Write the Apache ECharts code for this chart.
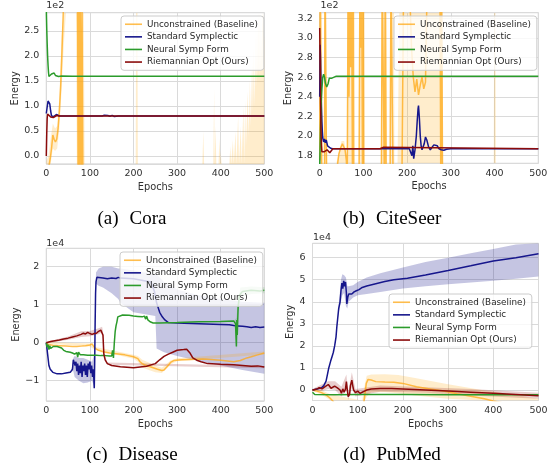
<!DOCTYPE html>
<html><head><meta charset="utf-8">
<script src="https://cdn.jsdelivr.net/npm/echarts@6/dist/echarts.min.js"></script>
<style>html,body{margin:0;padding:0;background:#fff}#c{width:551px;height:463px}</style>
</head><body><div id="c"></div>
<script>
const seriesNames = ['Unconstrained (Baseline)', 'Standard Symplectic', 'Neural Symp Form', 'Riemannian Opt (Ours)'];
const captions = ['(a)\u2002\u200aCora', '(b)\u2002\u200aCiteSeer', '(c)\u2002\u200aDisease', '(d)\u2002\u200aPubMed'];
const offsetLabels = ['1e2', '1e2', '1e4', '1e4'];

// ---- (a) Cora, energy in units of 1e2 ----
const coraOrange = [[0,-0.35],[3,-0.3],[6,-0.2],[9,-0.05],[12,0.15],[15,0.42],[18,0.33],[21,0.28],[24,0.34],[27,0.55],[30,0.9],[33,1.4],[36,2.1],[39,2.9],[44,4.5],[55,7],[68,6],[72,2.6],[73,-0.6],[75,3.0],[76,-0.6],[77,1.99],[78,3.0],[80,-0.6],[82,3.0],[84,-0.6],[86,-3],[100,-6],[500,-6]];
const coraOrangeBand = [[0,-0.7,-0.1],[5,-0.5,0.0],[10,-0.3,0.35],[15,0.15,0.65],[20,0.1,0.55],[25,0.15,0.6],[30,0.55,1.2],[35,1.3,2.4],[40,2.2,3.8],[45,4,6],[68,5,7],[70,-3,9],[86,-3,9],[88,-8,-4],[205,-8,-4],[206,-8,9],[209,-8,9],[210,-8,-4],
 [358,-8,-4],[360,-8,0.5],[362,-8,-4],[383,-8,-4],[385,-8,1.36],[386,-8,-4],[388,-8,0.6],[390,-8,-4],[395,-8,-4],[397,-8,0.35],[399,-8,-4],[400,-8,0.1],[402,-8,-4],
 [420,-8,-4],[422,-8,0.2],[424,-8,-4],[428,-8,0.32],[430,-8,-4],[434,-8,0.5],[436,-8,-4],[440,-8,0.82],[442,-8,-4],[446,-8,0.6],[448,-8,-4],[452,-8,1.0],[454,-8,-4],[456,-8,1.12],[458,-8,0.2],[462,-8,1.3],[464,-8,0.4],[467,-8,1.52],[469,-8,0.6],[472,-8,1.9],[474,-8,0.9],[476,-8,2.2],[478,-8,1.0],[481,-8,2.6],[483,-8,1.4],[486,-8,3.5],[488,-8,1.6],[490,-8,3.5],[492,-8,1.8],[495,-8,2.6],[497,-8,3.5],[500,-8,2.3]];
const coraBlue = [[0,0.85],[2,0.98],[4,1.1],[6,1.13],[8,1.04],[10,0.9],[12,0.8],[14,0.77],[17,0.79],[20,0.82],[23,0.83],[26,0.81],[30,0.8],[40,0.8],[128,0.8],[133,0.815],[137,0.79],[141,0.81],[146,0.795],[151,0.812],[156,0.79],[160,0.805],[165,0.8],[500,0.8]];
const coraGreen = [[0,2.95],[1,2.55],[2,2.25],[3,2.0],[4,1.82],[5,1.68],[6,1.59],[7,1.56],[9,1.58],[12,1.64],[15,1.68],[18,1.66],[21,1.61],[24,1.58],[28,1.59],[35,1.6],[60,1.595],[500,1.595]];
const coraRed = [[0,0.0],[1,0.45],[2,0.75],[3,0.84],[5,0.85],[7,0.82],[10,0.78],[13,0.76],[16,0.77],[20,0.8],[24,0.81],[30,0.8],[500,0.8]];

// ---- (b) CiteSeer, energy in units of 1e2 ----
const citeOrange = [[0,1.75],[1,3.6],[4,3.6],[5,1.5],[11,1.5],[12,3.6],[15,3.6],[16,1.5],[38,1.5],[41,1.72],[44,1.82],[48,1.88],[52,1.92],[55,1.91],[58,1.86],[61,1.75],[63,1.5],[65,3.6],[67,2.4],[69,3.6],[71,2.7],[73,3.6],[75,1.5],[77,3.6],[78,1.5],[90,1.5],[92,3.6],[94,2.9],[96,3.6],[98,1.5],[100,3.6],[101,1.5],[141,1.5],[143,3.6],[146,3.6],[148,1.5],[150,3.6],[152,1.5],[161,1.5],[163,3.6],[166,3.6],[168,1.5],[188,1.5],[192,3.6],[205,3.6],[210,2.9],[214,2.6],[218,2.45],[222,2.58],[226,2.42],[230,2.52],[234,2.6],[238,2.48],[242,2.55],[246,3.6],[275,3.6],[277,1.5],[279,3.6],[281,1.5],[500,1.5]];
const citeOrangeBand = [[0,1.0,4.0],[5,1.0,4.0],[6,1.0,1.0],[10,1.0,1.0],[11,1.0,4.0],[16,1.0,4.0],[17,1.0,1.0],[38,1.0,1.0],[42,1.0,1.8],[50,1.0,1.95],[56,1.0,1.95],[62,1.0,1.8],[63,1.0,4.0],[78,1.0,4.0],[79,1.0,1.0],[89,1.0,1.0],[90,1.0,4.0],[101,1.0,4.0],[102,1.0,1.0],[140,1.0,1.0],[141,1.0,4.0],[153,1.0,4.0],[154,1.0,1.0],[160,1.0,1.0],[161,1.0,4.0],[170,1.0,4.0],[171,1.0,1.0],[178,1.0,1.0],[182,1.0,4.0],[280,1.0,4.0],[282,1.0,1.0],[398,1.0,1.0],[399,1.0,4.0],[402,1.0,4.0],[403,1.0,1.0],[500,1.0,1.0]];
const citeBlue = [[0,2.4],[1,2.93],[2,2.78],[3,2.52],[4,2.3],[5,2.15],[6,2.05],[7,1.98],[9,1.94],[11,1.97],[13,1.93],[15,1.96],[18,1.9],[21,1.88],[25,1.875],[30,1.87],[205,1.87],[208,1.85],[211,1.8],[213,1.9],[215,1.77],[218,1.86],[221,2.0],[223,2.15],[225,2.28],[226,2.31],[228,2.18],[230,2.0],[232,1.9],[234,1.86],[236,1.85],[239,1.92],[242,1.99],[245,1.96],[249,1.89],[253,1.86],[257,1.88],[261,1.91],[265,1.92],[269,1.9],[273,1.87],[278,1.86],[284,1.855],[290,1.865],[300,1.87],[500,1.87]];
const citeGreen = [[0,1.7],[1,1.9],[2,2.1],[3,2.3],[5,2.48],[7,2.6],[9,2.63],[11,2.6],[13,2.54],[16,2.5],[19,2.53],[22,2.59],[25,2.61],[28,2.59],[32,2.6],[38,2.61],[500,2.61]];
const citeRed = [[0,3.1],[1,2.75],[2,2.35],[3,2.05],[4,1.9],[5,1.84],[7,1.82],[9,1.86],[11,1.84],[13,1.82],[15,1.85],[17,1.86],[20,1.84],[23,1.83],[26,1.85],[30,1.87],[138,1.87],[142,1.89],[146,1.885],[150,1.87],[500,1.87]];

// ---- (c) Disease, energy in units of 1e4 ----
const disOrange = [[0,0],[5,-0.05],[15,-0.07],[30,-0.08],[45,-0.09],[60,-0.1],[70,-0.1],[80,-0.09],[90,-0.08],[100,-0.06],[105,-0.03],[108,-0.05],[112,-0.15],[120,-0.2],[130,-0.24],[145,-0.27],[160,-0.29],[180,-0.32],[200,-0.37],[210,-0.42],[215,-0.5],[220,-0.55],[225,-0.58],[235,-0.62],[245,-0.66],[255,-0.7],[265,-0.73],[270,-0.72],[278,-0.62],[285,-0.52],[292,-0.47],[310,-0.45],[330,-0.44],[360,-0.43],[400,-0.46],[430,-0.5],[445,-0.47],[460,-0.4],[470,-0.37],[485,-0.32],[500,-0.27]];
const disOrangeBand = [[0,-0.02,0.02],[100,-0.1,-0.02],[112,-0.19,-0.11],[200,-0.42,-0.32],[210,-0.5,-0.35],[220,-0.65,-0.45],[235,-0.72,-0.52],[250,-0.78,-0.6],[265,-0.8,-0.66],[285,-0.57,-0.47],[300,-0.49,-0.41],[500,-0.31,-0.23]];
const disBlue = [[0,0],[3,-0.3],[6,-0.6],[9,-0.7],[15,-0.78],[25,-0.82],[35,-0.82],[45,-0.8],[55,-0.78],[60,-0.7],[62,-0.45],[64,-0.4],[66,-0.6],[68,-0.5],[70,-0.75],[72,-0.55],[74,-0.85],[76,-0.6],[78,-0.8],[80,-0.5],[82,-0.9],[84,-0.6],[86,-0.75],[88,-0.55],[90,-0.85],[92,-0.6],[94,-0.9],[96,-0.55],[98,-0.7],[100,-0.5],[102,-0.8],[104,-0.6],[106,-0.9],[108,-0.7],[110,-1.2],[111,-0.5],[112,0.5],[113,1.3],[114,1.6],[116,1.72],[120,1.72],[130,1.7],[140,1.68],[150,1.7],[160,1.69],[165,1.72],[167,1.68],[170,1.7],[200,1.68],[240,1.6],[248,1.35],[253,1.05],[260,0.8],[266,0.68],[272,0.6],[280,0.53],[300,0.52],[350,0.5],[400,0.48],[420,0.47],[430,0.45],[440,0.44],[450,0.43],[460,0.42],[470,0.4],[480,0.42],[490,0.4],[500,0.41]];
const disBlueBand = [[0,0,0],[3,-0.3,-0.3],[6,-0.6,-0.6],[9,-0.7,-0.7],[15,-0.78,-0.78],[25,-0.82,-0.82],[45,-0.8,-0.8],[58,-0.75,-0.73],[62,-0.75,-0.4],[65,-0.9,-0.35],[75,-1.0,-0.4],[85,-1.07,-0.4],[95,-1.05,-0.45],[105,-1.0,-0.5],[110,-1.15,-0.3],[112,0.5,1.0],[114,1.55,1.85],[120,1.5,1.95],[130,1.45,2.0],[150,1.3,2.0],[165,1.15,1.95],[170,1.05,1.95],[200,0.8,1.9],[250,0.7,1.8],[253,-0.15,1.8],[270,-0.25,1.6],[300,-0.35,1.4],[350,-0.48,1.25],[400,-0.6,1.15],[450,-0.72,1.08],[500,-0.82,1.05]];
const disGreen = [[0,0],[2,-0.12],[4,-0.05],[6,-0.18],[8,-0.08],[10,-0.15],[12,-0.1],[14,-0.2],[16,-0.1],[20,-0.12],[25,-0.1],[30,-0.12],[35,-0.14],[40,-0.2],[45,-0.23],[55,-0.25],[60,-0.27],[65,-0.3],[70,-0.26],[72,-0.38],[74,-0.25],[78,-0.32],[85,-0.32],[95,-0.33],[105,-0.33],[115,-0.33],[125,-0.34],[135,-0.34],[145,-0.35],[150,-0.35],[152,-0.2],[154,-0.4],[156,0.0],[158,0.3],[160,0.45],[162,0.55],[164,0.68],[167,0.72],[175,0.73],[190,0.72],[200,0.7],[210,0.69],[220,0.68],[225,0.7],[228,0.62],[230,0.7],[233,0.6],[238,0.55],[245,0.52],[260,0.52],[300,0.53],[350,0.55],[400,0.56],[430,0.57],[434,0.5],[436,-0.1],[437,0.6],[438,0.2],[440,0.95],[443,1.25],[450,1.35],[470,1.38],[490,1.36],[500,1.38]];
const disGreenBand = [[428,0.57,0.57],[432,0.52,0.6],[436,-0.2,0.65],[440,0.8,1.1],[445,1.2,1.45],[470,1.28,1.48],[500,1.3,1.46]];
const disRed = [[0,0],[10,0.03],[20,0.05],[30,0.07],[40,0.1],[50,0.12],[60,0.15],[70,0.18],[80,0.22],[85,0.25],[90,0.23],[95,0.27],[100,0.24],[105,0.22],[110,0.24],[115,0.25],[120,0.3],[125,0.33],[128,0.36],[130,0.2],[132,-0.3],[135,-0.45],[140,-0.55],[150,-0.6],[170,-0.63],[200,-0.66],[230,-0.62],[250,-0.55],[260,-0.45],[270,-0.36],[280,-0.3],[290,-0.25],[300,-0.2],[315,-0.18],[322,-0.17],[326,-0.15],[330,-0.28],[336,-0.4],[345,-0.46],[355,-0.5],[370,-0.55],[400,-0.57],[430,-0.58],[450,-0.6],[470,-0.62],[485,-0.61],[500,-0.64]];
const disRedBand = [[0,-0.02,0.02],[50,0.08,0.16],[80,0.15,0.3],[100,0.17,0.31],[120,0.22,0.38],[128,0.28,0.42],[130,0.1,0.3],[132,-0.35,-0.25],[140,-0.58,-0.52],[500,-0.67,-0.61]];

// ---- (d) PubMed, energy in units of 1e4 ----
const pubOrange = [[0,0],[10,-0.05],[20,-0.12],[30,-0.22],[38,-0.35],[45,-0.5],[55,-0.8],[100,-1],[112,-0.8],[116,-0.2],[119,0.3],[123,0.48],[130,0.45],[140,0.38],[160,0.36],[180,0.35],[200,0.3],[230,0.15],[260,0.05],[290,-0.05],[320,-0.17],[350,-0.28],[380,-0.4],[400,-0.5],[450,-0.7],[500,-0.9]];
const pubOrangeBand = [[0,-0.05,0.05],[20,-0.2,0],[40,-0.55,-0.2],[110,-0.6,-0.5],[116,-0.6,0.3],[120,-0.3,0.65],[130,-0.1,0.7],[160,-0.1,0.72],[190,-0.15,0.68],[227,-0.25,0.55],[300,-0.4,0.26],[375,-0.6,0.0],[450,-0.8,-0.23],[500,-0.9,-0.4]];
const pubBlue = [[0,0],[10,0.05],[20,0.1],[25,0.2],[30,0.4],[33,0.7],[36,1.0],[40,1.3],[43,1.5],[46,1.7],[49,2.0],[52,2.4],[54,2.9],[56,3.3],[58,3.7],[61,4.0],[63,4.5],[65,4.85],[67,4.6],[69,4.95],[71,4.7],[73,4.9],[75,4.4],[76,3.9],[78,4.2],[80,4.35],[83,4.4],[87,4.35],[92,4.45],[97,4.5],[103,4.55],[110,4.65],[120,4.72],[140,4.82],[160,4.92],[180,5.0],[210,5.07],[250,5.22],[300,5.42],[350,5.63],[400,5.85],[450,6.0],[500,6.18]];
const pubBlueBand = [[54,2.9,2.9],[56,3.2,3.4],[58,3.55,3.9],[60,3.7,4.3],[63,4.0,5.0],[66,4.3,5.25],[70,4.4,5.2],[74,3.8,5.1],[77,3.7,4.7],[80,4.0,4.7],[90,4.2,4.75],[100,4.3,4.9],[120,4.35,5.1],[150,4.45,5.3],[200,4.6,5.55],[250,4.7,5.8],[300,4.8,6.0],[350,4.88,6.2],[400,4.95,6.4],[450,5.05,6.6],[500,5.15,6.8]];
const pubGreen = [[0,-0.1],[5,-0.2],[50,-0.21],[100,-0.2],[200,-0.2],[300,-0.21],[400,-0.22],[500,-0.22]];
const pubRed = [[0,0],[5,0.02],[10,0.05],[15,0.1],[18,0.15],[21,0.05],[24,0.03],[28,0.15],[32,0.22],[35,0.25],[38,0.2],[41,0.08],[45,0.12],[49,0.18],[52,0.25],[55,0.1],[58,0.05],[61,0.0],[64,-0.15],[67,0.05],[70,-0.1],[73,0.05],[75,0.38],[77,0.0],[79,-0.3],[82,-0.2],[84,0.2],[87,0.45],[89,0.2],[91,0.0],[95,-0.12],[100,-0.05],[105,-0.15],[110,-0.1],[115,-0.05],[120,0.0],[130,0.05],[150,0.07],[175,0.07],[200,0.05],[250,0.0],[300,-0.05],[350,-0.1],[400,-0.15],[450,-0.2],[500,-0.26]];
const pubRedBand = [[0,-0.05,0.05],[20,-0.05,0.25],[35,0.05,0.4],[50,0.0,0.4],[64,-0.3,0.15],[75,0.0,0.7],[79,-0.45,-0.1],[87,0.1,0.8],[95,-0.3,0.05],[115,-0.2,0.1],[150,-0.08,0.2],[250,-0.12,0.12],[350,-0.25,0.05],[500,-0.4,-0.12]];

const lineColors = ['rgba(255,168,20,0.75)', '#16168c', '#2b9b2b', '#8b0b0b'];
const bandColors = ['rgba(255,165,0,0.2)', 'rgba(25,25,140,0.25)', 'rgba(43,155,43,0.2)', 'rgba(139,11,11,0.2)'];

const panels = [
  {grid:{left:46.3, top:12.7, width:218, height:151.3}, y:{min:-0.16, max:2.866, step:0.5, dec:1, split:5}, yGap:24, xGap:18,
   lines:[coraOrange, coraBlue, coraGreen, coraRed], bands:[[0, coraOrangeBand]], legend:{left:121, top:16}, off:[46.3, 6], cap:[132, 219]},
  {grid:{left:319.7, top:12.7, width:218.6, height:150.6}, y:{min:1.722, max:3.257, step:0.2, dec:1, split:7}, yGap:25, xGap:18.5,
   lines:[citeOrange, citeBlue, citeGreen, citeRed], bands:[[0, citeOrangeBand]], legend:{left:394, top:16}, off:[320.5, 6], cap:[392, 219]},
  {grid:{left:46.3, top:248.3, width:218, height:152.7}, y:{min:-1.534, max:2.484, step:1, dec:0, split:5}, yGap:23.5, xGap:18,
   lines:[disOrange, disBlue, disGreen, disRed], bands:[[1, disBlueBand], [0, disOrangeBand], [2, disGreenBand], [3, disRedBand]], legend:{left:120, top:252}, off:[46.3, 243.5], cap:[132, 455]},
  {grid:{left:312.5, top:243.3, width:226, height:157.2}, y:{min:-0.476, max:6.653, step:1, dec:0, split:5}, yGap:17.5, xGap:18.5,
   lines:[pubOrange, pubBlue, pubGreen, pubRed], bands:[[1, pubBlueBand], [0, pubOrangeBand], [3, pubRedBand]], legend:{left:389, top:294}, off:[313, 238], cap:[392, 455]}
];

function fmt(step, dec) {
  return function (v) {
    const k = Math.round(v / step);
    if (Math.abs(v - k * step) > step * 1e-3) return '';
    return (k * step).toFixed(dec).replace('-', '\u2212');
  };
}
const tickFont = {color:'#303030', fontSize:9.5, fontFamily:'DejaVu Sans'};
const nameFont = {color:'#303030', fontSize:9.8, fontFamily:'DejaVu Sans'};

const option = {animation:false, grid:[], xAxis:[], yAxis:[], legend:[], series:[], graphic:[]};
panels.forEach(function (p, i) {
  option.grid.push(Object.assign({show:true, borderColor:'#cccccc', borderWidth:1, backgroundColor:'#ffffff', outerBoundsMode:'none', containLabel:false}, p.grid));
  option.xAxis.push({type:'value', gridIndex:i, min:0, max:500, interval:100,
    axisLine:{show:false}, axisTick:{show:false},
    splitLine:{show:true, lineStyle:{color:'#dadada', width:1}},
    axisLabel:Object.assign({margin:5}, tickFont),
    name:'Epochs', nameLocation:'middle', nameGap:p.xGap, nameTextStyle:nameFont});
  option.yAxis.push({type:'value', gridIndex:i, min:p.y.min, max:p.y.max, splitNumber:p.y.split, minInterval:p.y.step, maxInterval:p.y.step,
    axisLine:{show:false}, axisTick:{show:false},
    splitLine:{show:true, lineStyle:{color:'#dadada', width:1}},
    axisLabel:Object.assign({margin:7, formatter:fmt(p.y.step, p.y.dec)}, tickFont),
    name:'Energy', nameLocation:'middle', nameGap:p.yGap, nameTextStyle:nameFont});
  option.legend.push({data:seriesNames, left:p.legend.left, top:p.legend.top, orient:'vertical', icon:'rect',
    itemWidth:17, itemHeight:1.6, itemGap:2.1, padding:[3,6,3,4], selectedMode:false,
    backgroundColor:'rgba(255,255,255,0.8)', borderColor:'#cccccc', borderWidth:1, borderRadius:3,
    textStyle:{fontSize:8.8, fontFamily:'DejaVu Sans', color:'#262626', lineHeight:10.5}});
  p.bands.forEach(function (b) {
    const band = b[1], col = bandColors[b[0]], lo = p.y.min, hi = p.y.max;
    const cl = function (v) { return Math.max(lo, Math.min(hi, v)); };
    option.series.push({type:'custom', name:'band', xAxisIndex:i, yAxisIndex:i, data:band, clip:true, silent:true, z:1,
      encode:{x:0, y:[1,2]},
      renderItem:function (params, api) {
        if (params.dataIndex !== 0) return null;
        const pts = [];
        for (let k = 0; k < band.length; k++) pts.push(api.coord([band[k][0], cl(band[k][2])]));
        for (let k = band.length - 1; k >= 0; k--) pts.push(api.coord([band[k][0], cl(band[k][1])]));
        return {type:'polygon', shape:{points:pts}, style:{fill:col, stroke:null}};
      }});
  });
  p.lines.forEach(function (d, s) {
    option.series.push({type:'line', name:seriesNames[s], xAxisIndex:i, yAxisIndex:i, data:d,
      showSymbol:false, symbol:'none', clip:true, z:3, emphasis:{disabled:true},
      lineStyle:{color:lineColors[s], width:1.5}, itemStyle:{color:lineColors[s]}});
  });
  option.graphic.push({type:'text', x:p.off[0], y:p.off[1], silent:true,
    style:{text:offsetLabels[i], fill:'#303030', font:'9.5px "DejaVu Sans"', textAlign:'left', textVerticalAlign:'middle'}});
  option.graphic.push({type:'text', x:p.cap[0], y:p.cap[1], silent:true,
    style:{text:captions[i], fill:'#000000', font:'19px "Liberation Serif"', textAlign:'center', textVerticalAlign:'middle'}});
});

const chart = echarts.init(document.getElementById('c'), null, {renderer:'canvas'});
chart.setOption(option);
</script>
</body></html>
